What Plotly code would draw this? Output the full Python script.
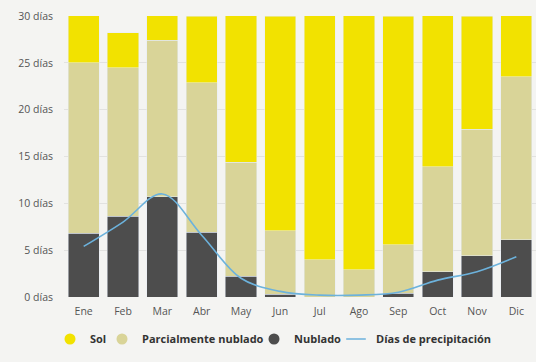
import plotly.graph_objects as go

meses = ["Ene", "Feb", "Mar", "Abr", "May", "Jun", "Jul", "Ago", "Sep", "Oct", "Nov", "Dic"]
nublado = [6.8, 8.6, 10.7, 6.9, 2.2, 0.3, 0.0, 0.0, 0.4, 2.7, 4.4, 6.1]
parcial = [18.2, 15.9, 16.7, 16.0, 12.2, 6.8, 4.0, 2.9, 5.2, 11.2, 13.5, 17.4]
sol = [6.0, 3.7, 3.6, 7.1, 16.6, 22.9, 27.0, 28.1, 24.4, 17.1, 12.1, 7.5]
precipitacion = [5.4, 8.0, 11.0, 6.6, 2.0, 0.6, 0.2, 0.2, 0.5, 1.8, 2.7, 4.3]
ticks_vals = [0, 5, 10, 15, 20, 25, 30]
ticks_text = [f"{v} días" for v in ticks_vals]

c_sol = "#f2e200"
c_par = "#d9d498"
c_nub = "#4d4d4d"
c_lin = "#6cb2dc"

fig = go.Figure()
fig.add_bar(x=meses, y=nublado, marker_color=c_nub, showlegend=False, hoverinfo="skip")
fig.add_bar(x=meses, y=parcial, marker_color=c_par, showlegend=False, hoverinfo="skip")
fig.add_bar(x=meses, y=sol, marker_color=c_sol, showlegend=False, hoverinfo="skip")
fig.add_scatter(x=meses, y=precipitacion, mode="lines", line=dict(color=c_lin, width=1.6, shape="spline"),
                showlegend=False)

legend_items = [
    ("Sol", dict(color=c_sol, size=11, symbol="circle"), "legend", 50),
    ("Parcialmente nublado", dict(color=c_par, size=11, symbol="circle"), "legend2", 102),
    ("Nublado", dict(color=c_nub, size=11, symbol="circle"), "legend3", 254),
    ("Días de precipitación", dict(color=c_lin, size=14, symbol="line-ew-open",
                                   line=dict(color=c_lin, width=1.6)), "legend4", 336),
]
legend_layout = {}
for name, mk, lg, xpx in legend_items:
    fig.add_scatter(x=[None], y=[None], mode="markers", name=name, marker=mk, legend=lg)
    legend_layout[lg] = dict(orientation="h", xref="container", yref="container",
                             x=xpx / 536, xanchor="left", y=1 - 339 / 362, yanchor="middle",
                             font=dict(size=11, color="#333", weight="bold"),
                             itemwidth=30, bgcolor="rgba(0,0,0,0)")

fig.update_layout(
    width=536, height=362,
    margin=dict(l=64, r=0, t=16, b=65, autoexpand=False),
    barmode="stack", bargap=0.21,
    paper_bgcolor="#f4f4f2", plot_bgcolor="#f4f4f2",
    font=dict(family="Open Sans", size=10, color="#555"),
    **legend_layout,
)
fig.update_xaxes(showgrid=False, ticks="", tickfont=dict(size=10.5, color="#555"), ticklabelstandoff=6)
fig.update_yaxes(range=[0, 30], tickvals=ticks_vals, ticktext=ticks_text,
                 gridcolor="#e2e2e0", gridwidth=1, zeroline=False,
                 tickfont=dict(size=10.5, color="#555"), ticklabelstandoff=10)
fig.write_html("out.html", config={"displayModeBar": False},
               post_script="document.body.style.margin='0';document.body.style.overflow='hidden';")
